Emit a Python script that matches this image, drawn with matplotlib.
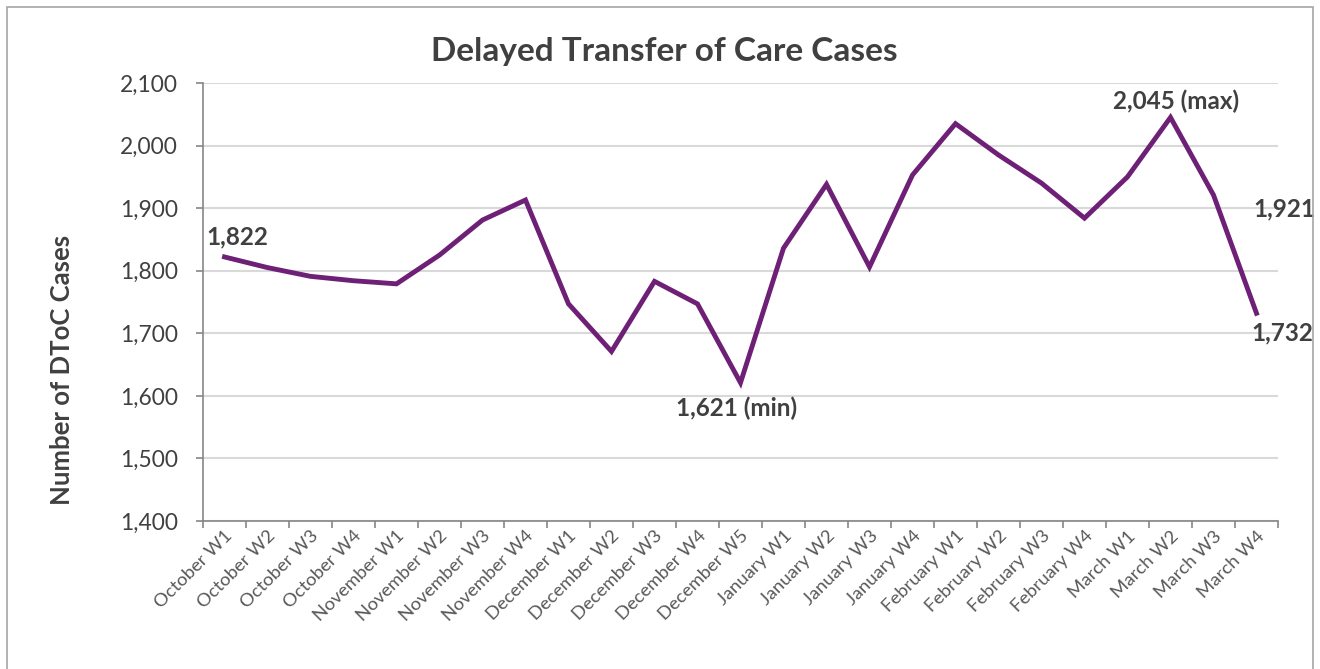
import matplotlib
matplotlib.use("Agg")
import matplotlib.pyplot as plt
from matplotlib.ticker import FuncFormatter, FixedLocator
from matplotlib.patches import Rectangle

categories = ["October W1", "October W2", "October W3", "October W4",
              "November W1", "November W2", "November W3", "November W4",
              "December W1", "December W2", "December W3", "December W4", "December W5",
              "January W1", "January W2", "January W3", "January W4",
              "February W1", "February W2", "February W3", "February W4",
              "March W1", "March W2", "March W3", "March W4"]
values = [1822, 1805, 1791, 1784, 1779, 1825, 1881, 1913,
          1747, 1671, 1783, 1747, 1621,
          1836, 1938, 1806, 1953,
          2035, 1985, 1940, 1884,
          1950, 2045, 1921, 1732]

plt.rcParams['font.family'] = ['Lato', 'DejaVu Sans']

W, H = 1320, 669
fig = plt.figure(figsize=(W / 100, H / 100), dpi=100)
fig.patches.append(Rectangle((7/W, -0.01), 1306/W, 1.01 - 7/H, transform=fig.transFigure,
                             fill=False, edgecolor='#a6a6a6', linewidth=1.2))
ax = fig.add_axes([203/W, 1 - 521/H, 1075/W, 438/H])

x = list(range(len(values)))
ax.plot(x, values, color='#6E2076', linewidth=3.5, solid_joinstyle='miter', zorder=3)

ax.set_xlim(-0.5, len(values) - 0.5)
ax.set_ylim(1400, 2100)
ax.set_yticks(range(1400, 2101, 100))
ax.yaxis.set_major_formatter(FuncFormatter(lambda v, p: f"{int(v):,}"))
ax.grid(axis='y', color='#d9d9d9', linewidth=1.5, zorder=0)
ax.set_axisbelow(True)

ax.set_xticks(x)
ax.set_xticklabels(categories, rotation=45, ha='right', rotation_mode='anchor',
                   fontsize=13.3, color='#595959')
ax.tick_params(axis='x', which='major', length=0, pad=5)
ax.xaxis.set_minor_locator(FixedLocator([i - 0.5 for i in range(len(values) + 1)]))
ax.tick_params(axis='x', which='minor', length=5, width=1.2, color='#868686', direction='out')
ax.tick_params(axis='y', length=5, width=1.2, color='#868686', labelsize=16.4,
               labelcolor='#404040', pad=13)

for s in ['top', 'right']:
    ax.spines[s].set_visible(False)
for s in ['left', 'bottom']:
    ax.spines[s].set_color('#868686')
    ax.spines[s].set_linewidth(1.2)

fig.text(62/W, 1 - 370/H, "Number of DToC Cases", rotation=90, ha='center', va='center',
         fontsize=18.5, fontweight='bold', color='#404040')
fig.text(664/W, 1 - 52/H, "Delayed Transfer of Care Cases", ha='center', va='center',
         fontsize=24, fontweight='bold', color='#404040')

lab_kw = dict(fontsize=17.5, fontweight='bold', color='#404040', textcoords='offset points')
imin = values.index(min(values))
imax = values.index(max(values))
ax.annotate(f"{values[0]:,}", (0, values[0]), xytext=(9, 6), ha='center', va='bottom', **lab_kw)
ax.annotate(f"{values[imin]:,} (min)", (imin, values[imin]), xytext=(-3, -10), ha='center', va='top', **lab_kw)
ax.annotate(f"{values[imax]:,} (max)", (imax, values[imax]), xytext=(4, 3), ha='center', va='bottom', **lab_kw)
ax.annotate(f"{values[-2]:,}", (len(values) - 2, values[-2]), xytext=(29, -10), ha='left', va='center', **lab_kw)
ax.annotate(f"{values[-1]:,}", (len(values) - 1, values[-1]), xytext=(-4, -6), ha='left', va='top', **lab_kw)

fig.savefig("out.png", dpi=100, facecolor='white')
